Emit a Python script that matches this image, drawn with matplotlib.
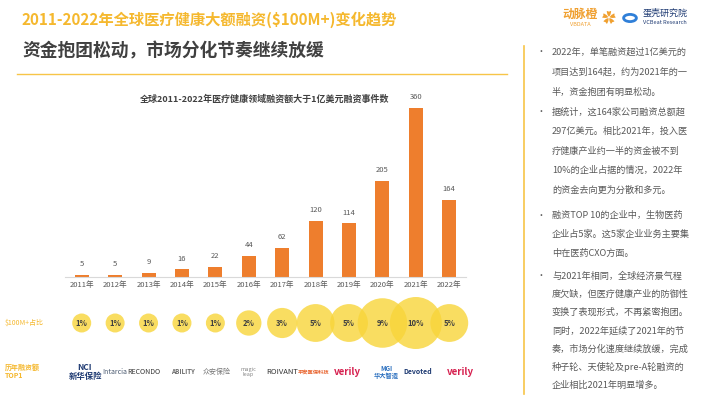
import matplotlib
matplotlib.use("Agg")
import matplotlib.pyplot as plt
import numpy as np

plt.rcParams['font.family'] = ['Noto Sans CJK SC', 'DejaVu Sans']

### Data
years = ["2011年", "2012年", "2013年", "2014年", "2015年", "2016年",
         "2017年", "2018年", "2019年", "2020年", "2021年", "2022年"]
deals = [5, 5, 9, 16, 22, 44, 62, 120, 114, 205, 360, 164]
share = [1, 1, 1, 1, 1, 2, 3, 5, 5, 9, 10, 5]
top1 = ["NCI\n新华保险", "Intarcia", "RECONDO", "ABILITY", "众安保险", "magic\nleap",
        "ROIVANT", "平安医保科技", "verily", "MGI\n华大智造", "Devoted", "verily"]

title = "2011-2022年全球医疗健康大额融资($100M+)变化趋势"
subtitle = "资金抱团松动，市场分化节奏继续放缓"
chart_title = "全球2011-2022年医疗健康领域融资额大于1亿美元融资事件数"
bullets = [
    ["2022年，单笔融资超过1亿美元的", "项目达到164起，约为2021年的一", "半，资金抱团有明显松动。"],
    ["据统计，这164家公司融资总额超", "297亿美元。相比2021年，投入医", "疗健康产业约一半的资金被不到",
     "10%的企业占据的情况，2022年", "的资金去向更为分散和多元。"],
    ["融资TOP 10的企业中，生物医药", "企业占5家。这5家企业业务主要集", "中在医药CXO方面。"],
    ["与2021年相同，全球经济景气程", "度欠缺，但医疗健康产业的防御性", "变换了表现形式，不再紧密抱团。",
     "同时，2022年延续了2021年的节", "奏，市场分化速度继续放缓，完成", "种子轮、天使轮及pre-A轮融资的",
     "企业相比2021年明显增多。"],
]

W, H = 710, 399
YELLOW = "#F5B82E"
ORANGE = "#EE7E2D"
GRAY = "#595959"


def fx(px):
    return px / W


def fy(py):
    return 1 - py / H


fig = plt.figure(figsize=(W / 100, H / 100), dpi=100)

# header
fig.text(fx(22), fy(20), title, color=YELLOW, fontsize=11, fontweight='bold', va='center')
fig.text(fx(22), fy(51), subtitle, color="#404040", fontsize=12.8, fontweight='bold', va='center')
fig.add_artist(plt.Line2D([fx(17), fx(507)], [fy(74), fy(74)], color="#F7C548", lw=1))

# logos top right
fig.text(fx(580), fy(14), "动脉橙", color="#F0A030", fontsize=8.5, fontweight='bold', ha='center', va='center')
fig.text(fx(580), fy(25), "VBDATA", color="#F0A030", fontsize=4, ha='center', va='center')
fig.text(fx(609), fy(18), "✿", color="#F0A030", fontsize=10, ha='center', va='center')
fig.add_artist(plt.Circle((fx(630), fy(18)), 0.009, transform=fig.transFigure, color="#2F7FD8", fill=False, lw=2))
fig.text(fx(665), fy(13), "蛋壳研究院", color="#1F3B73", fontsize=6.5, ha='center', va='center')
fig.text(fx(665), fy(23), "VCBeat Research", color="#1F3B73", fontsize=4, ha='center', va='center')

# right panel
fig.add_artist(plt.Line2D([fx(524), fx(524)], [fy(46), fy(394)], color="#F7C548", lw=1.2))
starts = [52, 112, 215, 276]
gaps = [20, 19.5, 19, 18.2]
for lines, y0, gap in zip(bullets, starts, gaps):
    fig.text(fx(541), fy(y0), "•", color=GRAY, fontsize=6.5, va='center', ha='center')
    for k, line in enumerate(lines):
        fig.text(fx(552), fy(y0 + k * gap), line, color=GRAY, fontsize=6.6, va='center')

# bar chart
ax = fig.add_axes([fx(65), fy(277), (466 - 65) / W, (277 - 92) / H])
x = np.arange(len(years))
ax.bar(x, deals, width=0.42, color=ORANGE)
for xi, v in zip(x, deals):
    ax.annotate(str(v), (xi, v), xytext=(0, 5), textcoords='offset points',
                ha='center', va='bottom', fontsize=5.5, color=GRAY)
ax.set_xlim(-0.5, len(years) - 0.5)
ax.set_ylim(0, 394)
ax.set_xticks(x)
ax.set_xticklabels(years, fontsize=5.5, color=GRAY)
ax.tick_params(axis='x', length=0, pad=3)
ax.set_yticks([])
for s in ["top", "left", "right"]:
    ax.spines[s].set_visible(False)
ax.spines["bottom"].set_color("#D9D9D9")
ax.patch.set_alpha(0)
fig.text(fx(265), fy(99), chart_title, color="#404040", fontsize=6.5, fontweight='bold', ha='center', va='center')

# bubble row
bx = fig.add_axes([fx(65), fy(356), (466 - 65) / W, (356 - 290) / H])
bx.set_xlim(-0.5, len(years) - 0.5)
bx.set_ylim(-1, 1)
bx.axis('off')
radii = 1.87 + 7.63 * np.sqrt(share)
sizes = (2 * radii * 0.72) ** 2
bx.scatter(x, np.zeros(len(x)), s=sizes, color="#F8D53A", alpha=0.8, lw=0, clip_on=False)
for xi, v in zip(x, share):
    bx.text(xi, 0, f"{v}%", ha='center', va='center', fontsize=5.5, color="#404040", fontweight='bold')
fig.text(fx(5), fy(323), "$100M+占比", color=YELLOW, fontsize=5, va='center')

# top1 row
fig.text(fx(5), fy(371), "历年融资额\nTOP1", color=YELLOW, fontsize=5, fontweight='bold', va='center', linespacing=1.1)
logo_x = [85, 115, 144, 183, 217, 248, 282, 314, 347, 386, 418, 460]
logo_c = ["#1F3B73", "#4A5A70", "#333333", "#6A6A6A", "#777777", "#888888",
          "#333333", "#E8622C", "#D6204F", "#2A6FBF", "#1F3B73", "#D6204F"]
logo_fs = [6, 5, 5, 4.5, 5, 4, 5.5, 3.8, 7, 4.5, 5, 7]
logo_w = ['bold', 'normal', 'normal', 'bold', 'normal', 'normal',
          'normal', 'bold', 'bold', 'bold', 'bold', 'bold']
for lx, lab, c, fs, fw in zip(logo_x, top1, logo_c, logo_fs, logo_w):
    fig.text(fx(lx), fy(372), lab, color=c, fontsize=fs, ha='center', va='center',
             fontweight=fw, linespacing=1.0)

fig.savefig("out.png", dpi=100)
